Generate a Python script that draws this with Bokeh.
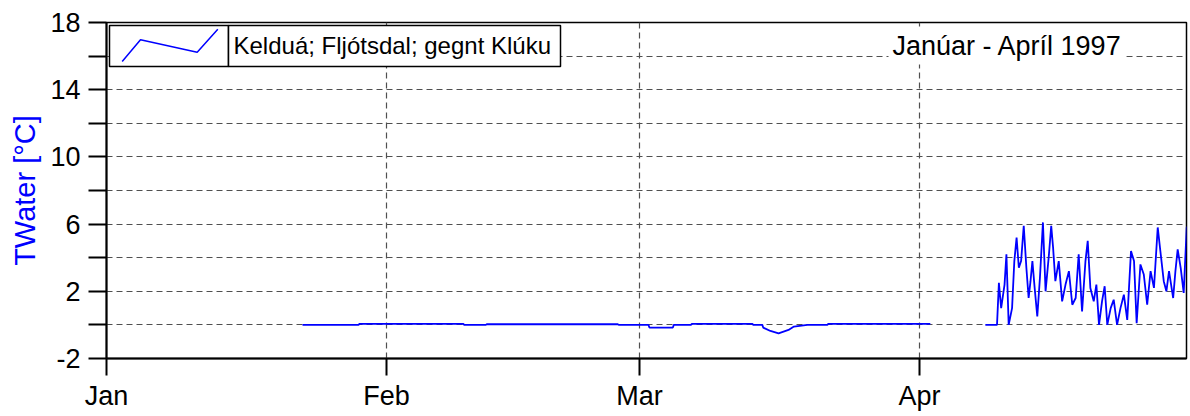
import pandas as pd
from bokeh.plotting import figure
from bokeh.models import (Range1d, FixedTicker, DatetimeTickFormatter, PrintfTickFormatter,
                          BoxAnnotation, PolyAnnotation, Label, ColumnDataSource)
from bokeh.embed import file_html
from bokeh.resources import INLINE

# ---------------- data ----------------
series_name = "Kelduá; Fljótsdal; gegnt Klúku"
period_text = "Janúar - Apríl 1997"
y_label = "TWater [°C]"

month_starts = ["1997-01-01", "1997-02-01", "1997-03-01", "1997-04-01"]
y_major_ticks = [-2, 2, 6, 10, 14, 18]
y_minor_ticks = [0, 4, 8, 12, 16]

# winter part: days after 1 Jan 1997, temperature
winter_day = [21.7, 27.9, 28.0, 39.5, 39.6, 42.0, 42.1, 56.6, 56.7, 60.0, 60.1, 62.7,
              62.8, 64.7, 64.8, 71.5, 71.6, 72.6, 72.7, 73.5, 74.4, 75.5, 76.1, 77.6,
              79.8, 79.9, 91.2]
winter_temp = [0.0, 0.0, 0.06, 0.06, 0.0, 0.0, 0.04, 0.04, 0.0, 0.0, -0.16, -0.16,
               0.0, 0.0, 0.06, 0.06, 0.0, 0.0, -0.16, -0.36, -0.5, -0.3, -0.1, 0.0,
               0.0, 0.06, 0.06]

# April part: hours after 1 Apr 1997 00:00, temperature
apr_hour = [175, 206, 211, 217, 226, 231, 237, 246, 252, 258,
            264, 270, 277, 284, 290, 295, 300, 306, 313, 320,
            328, 335, 344, 350, 355, 361, 370, 379, 388, 397,
            406, 415, 423, 432, 441, 447, 454, 463, 470, 477,
            485, 492, 499, 508, 516, 525, 534, 543, 552, 562,
            570, 577, 587, 596, 605, 614, 623, 633, 640, 649,
            656, 663, 674, 680, 686, 694, 702, 710, 716]
apr_temp = [0.0, 0.0, 2.5, 1.0, 2.4, 4.2, 0.0, 1.0, 3.8, 5.2,
            3.4, 3.8, 5.9, 3.4, 1.6, 2.6, 3.8, 2.2, 0.5, 2.8,
            6.1, 2.0, 4.2, 5.9, 4.6, 2.6, 3.8, 1.4, 2.4, 3.2,
            1.2, 1.6, 4.2, 0.8, 3.8, 5.0, 2.2, 1.4, 2.4, 0.0,
            1.4, 2.3, 0.0, 1.0, 1.5, 0.0, 1.0, 1.8, 0.3, 4.4,
            3.8, 0.1, 3.6, 3.0, 1.2, 3.2, 2.2, 5.8, 4.4, 2.6,
            2.0, 3.2, 1.6, 3.2, 4.5, 3.4, 1.9, 5.8, 5.9]

# ---------------- build ----------------
jan1 = pd.Timestamp("1997-01-01")
apr1 = pd.Timestamp("1997-04-01")
winter_src = ColumnDataSource(dict(t=jan1 + pd.to_timedelta(winter_day, unit="D"), v=winter_temp))
apr_src = ColumnDataSource(dict(t=apr1 + pd.to_timedelta(apr_hour, unit="h"), v=apr_temp))

x_start = jan1
x_end = jan1 + pd.Timedelta(days=119.56)

FONT = "Liberation Sans"
BLUE = "#0000ff"
GRID = "#505050"

p = figure(width=1190, height=416, x_axis_type="datetime",
           x_range=Range1d(x_start, x_end), y_range=Range1d(-2, 18),
           output_backend="svg", toolbar_location=None,
           min_border_left=106, min_border_right=4, min_border_top=22, min_border_bottom=58)
p.background_fill_color = "white"
p.border_fill_color = "white"
p.outline_line_color = "black"
p.outline_line_width = 1.5
p.outline_line_alpha = 1.0

p.line("t", "v", source=winter_src, color=BLUE, line_width=1.8)
p.line("t", "v", source=apr_src, color=BLUE, line_width=1.8)

# y axis
yt = FixedTicker(ticks=y_major_ticks, minor_ticks=y_minor_ticks)
ya = p.yaxis[0]
ya.ticker = yt
ya.formatter = PrintfTickFormatter(format="%d")
ya.axis_line_width = 2
ya.axis_line_color = "black"
ya.major_tick_line_width = 2
ya.major_tick_in = 0
ya.major_tick_out = 18
ya.minor_tick_line_width = 2
ya.minor_tick_line_color = "black"
ya.minor_tick_in = 0
ya.minor_tick_out = 18
ya.major_label_text_font = FONT
ya.major_label_text_font_size = "27px"
ya.major_label_text_color = "black"
ya.major_label_standoff = 8
ya.axis_label = y_label
ya.axis_label_text_font = FONT
ya.axis_label_text_font_size = "29px"
ya.axis_label_text_font_style = "normal"
ya.axis_label_text_color = BLUE
ya.axis_label_standoff = 6

# x axis
month_ms = [pd.Timestamp(m).value // 10**6 for m in month_starts]
xt = FixedTicker(ticks=month_ms)
xa = p.xaxis[0]
xa.ticker = xt
xa.formatter = DatetimeTickFormatter(microseconds="%b", milliseconds="%b", seconds="%b",
                                     minsec="%b", minutes="%b", hourmin="%b", hours="%b",
                                     days="%b", months="%b", years="%b")
xa.axis_line_width = 2
xa.axis_line_color = "black"
xa.major_tick_line_width = 2
xa.major_tick_in = 0
xa.major_tick_out = 17
xa.minor_tick_line_color = None
xa.major_label_text_font = FONT
xa.major_label_text_font_size = "27px"
xa.major_label_text_color = "black"
xa.major_label_standoff = 5

# grids
p.xgrid.ticker = xt
p.xgrid.grid_line_color = GRID
p.xgrid.grid_line_dash = "6 4"
p.xgrid.grid_line_width = 1.2
p.ygrid.ticker = yt
p.ygrid.grid_line_color = GRID
p.ygrid.grid_line_dash = "6 4"
p.ygrid.grid_line_width = 1.2
p.ygrid.minor_grid_line_color = GRID
p.ygrid.minor_grid_line_dash = "6 4"
p.ygrid.minor_grid_line_width = 1.2

# legend box (two cells)
for l, r in ((109, 228), (228, 560)):
    p.add_layout(BoxAnnotation(left=l, right=r, top=25, bottom=66,
                               left_units="canvas", right_units="canvas",
                               top_units="canvas", bottom_units="canvas",
                               fill_color="white", fill_alpha=1.0,
                               line_color="black", line_width=1.5, line_alpha=1.0))
p.add_layout(PolyAnnotation(xs=[121.7, 140, 196.7, 217.3, 196.7, 140],
                            ys=[61, 39.3, 51.7, 28.7, 51.7, 39.3],
                            xs_units="canvas", ys_units="canvas",
                            fill_alpha=0, line_color=BLUE, line_width=1.5, line_alpha=1.0))
p.add_layout(Label(x=233, y=45, x_units="canvas", y_units="canvas", text=series_name,
                   text_font=FONT, text_font_size="24px", text_color="black",
                   text_baseline="middle", text_align="left"))

# period text
p.add_layout(Label(x=888, y=45, x_units="canvas", y_units="canvas", text=period_text,
                   text_font=FONT, text_font_size="27px", text_color="black",
                   text_baseline="middle", text_align="left",
                   background_fill_color="white", background_fill_alpha=1.0, padding=4))

open("out.html", "w").write(file_html(p, INLINE))
